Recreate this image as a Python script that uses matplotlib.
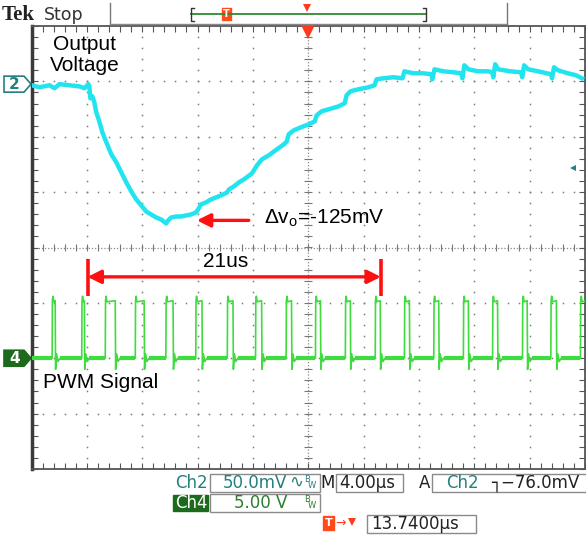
import matplotlib
matplotlib.use('Agg')
import matplotlib.pyplot as plt
import matplotlib.transforms as mtransforms
from matplotlib.patches import Polygon, Rectangle
from matplotlib.ticker import MultipleLocator
import numpy as np

W, H = 586, 536

# Ch2 output voltage: time (us) and level (mV, relative to the Ch2 marker)
ch2_t_us = [0.00, 0.58, 1.30, 1.66, 2.02, 2.74, 3.46, 3.82, 4.11, 4.18,
            4.25, 4.40, 4.54, 4.68, 4.90, 5.12, 5.41, 5.77, 6.13, 6.49,
            6.85, 7.21, 7.57, 7.93, 8.29, 8.65, 9.01, 9.37, 9.73, 9.87,
            10.09, 10.45, 10.81, 11.17, 11.53, 11.89, 12.04, 12.25, 12.61, 12.97,
            13.33, 13.69, 14.13, 14.27, 14.63, 14.99, 15.35, 15.93, 16.29, 16.65,
            17.15, 17.73, 18.23, 18.45, 18.59, 18.95, 19.46, 20.03, 20.47, 20.61,
            20.97, 21.48, 22.20, 22.63, 22.77, 23.06, 23.64, 24.36, 24.79, 24.94,
            25.44, 26.16, 26.81, 26.95, 27.60, 28.32, 28.90, 28.97, 29.12, 29.77,
            30.49, 31.06, 31.14, 31.28, 31.57, 32.29, 33.01, 33.30, 33.37, 33.51,
            33.73, 34.59, 35.39, 35.46, 35.60, 35.89, 36.61, 37.55, 37.62, 37.76,
            38.05, 38.77, 39.35, 39.78]
ch2_mv = [-1.0, -2.8, -1.0, -3.7, 0.0, -1.0, -2.0, -3.7, 0.0, -1.9,
          -12.8, -11.0, -16.4, -25.4, -33.6, -43.5, -52.5, -63.4, -70.6, -79.7,
          -88.7, -96.9, -104.1, -109.5, -115.0, -117.7, -120.4, -122.2, -125.8, -123.1,
          -120.4, -119.5, -119.5, -118.6, -117.7, -115.8, -113.1, -108.6, -106.8, -104.1,
          -102.3, -100.5, -97.8, -95.1, -92.3, -88.7, -86.0, -80.6, -73.4, -67.9,
          -64.3, -58.9, -54.4, -51.7, -45.3, -41.7, -39.0, -36.3, -33.6, -28.1,
          -24.5, -22.7, -20.0, -17.3, -10.1, -6.4, -4.6, -2.8, -1.0, 4.4,
          5.3, 6.2, 5.3, 11.6, 9.8, 9.8, 8.9, 4.4, 13.4, 11.6,
          10.7, 9.8, 5.3, 17.0, 13.4, 11.6, 11.6, 10.7, 6.2, 18.0,
          13.4, 11.6, 10.7, 6.2, 17.0, 13.4, 11.6, 8.9, 5.3, 15.2,
          12.5, 9.8, 8.0, 5.3]

# Ch4 PWM signal: edge times (us) and levels (V)
pwm_rise_us = [1.49, 3.63, 5.33, 7.50, 9.71, 11.87, 14.15, 16.19, 18.40, 20.52,
               22.68, 24.84, 26.95, 29.07, 31.21, 33.32, 35.48, 37.53, 39.67]
pwm_fall_us = [1.71, 3.82, 6.05, 8.14, 10.23, 12.32, 14.56, 16.63, 18.79, 20.88,
               23.04, 25.20, 27.31, 29.43, 31.57, 33.68, 35.82, 37.93, 40.20]
pwm_high_v = 5.2
pwm_peak_v = 5.6
pwm_under_v = -1.0

# scope settings
ch2_scale_mv = 50.0
ch4_scale_v = 5.0
ch2_pos_div = 2.95
ch4_pos_div = -2.0
trig_level_mv = -76.0
trig_pos_us = 20.0

# annotations
dv_label = r'$\mathrm{\Delta v_o}$=-125mV'
dv_arrow_from_us, dv_arrow_to_us, dv_arrow_mv = 15.7, 11.95, -123.0
span_label = '21us'
span_start_us, span_end_us = 4.05, 25.25

CH2_COL = '#22e4ef'
CH4_COL = '#3fdc3f'
TEAL = '#23807f'
GREEN_TXT = '#2f7d2f'
RED = '#ff1010'

plt.rcParams['mathtext.fontset'] = 'custom'
plt.rcParams['mathtext.rm'] = 'Liberation Sans'
plt.rcParams['mathtext.it'] = 'Liberation Sans:italic'

fig = plt.figure(figsize=(W / 100, H / 100), dpi=100)
fig.patch.set_facecolor('white')


def fx(x):
    return x / W


def fy(y):
    return 1 - y / H


left, right, top, bottom = 31.5, 585, 26, 469
ax = fig.add_axes([fx(left), fy(bottom), (right - left) / W, (bottom - top) / H])
ax.set_xlim(0, 40)
ax.set_ylim(-4, 4)

# graticule
ax.xaxis.set_major_locator(MultipleLocator(4))
ax.xaxis.set_minor_locator(MultipleLocator(0.8))
ax.yaxis.set_major_locator(MultipleLocator(1))
ax.yaxis.set_minor_locator(MultipleLocator(0.2))
ax.tick_params(which='both', direction='in', top=True, right=True,
               labelbottom=False, labelleft=False, length=4, width=0.8,
               color='#555555')
for side in ['top', 'right', 'bottom']:
    ax.spines[side].set_color('#555555')
    ax.spines[side].set_linewidth(1.3)
ax.spines['left'].set_color('#3a3a3a')
ax.spines['left'].set_linewidth(2.5)

dot_y = np.arange(-3.8, 4.0, 0.2)
dot_x = np.arange(0.8, 40.0, 0.8)
for xv in range(4, 40, 4):
    if xv == 20:
        continue
    ax.plot([xv] * len(dot_y), dot_y, ls='none', marker='s', ms=1.1,
            mew=0, color='#7a7a7a', zorder=1)
for yv in range(-3, 4):
    if yv == 0:
        continue
    ax.plot(dot_x, [yv] * len(dot_x), ls='none', marker='s', ms=1.1,
            mew=0, color='#7a7a7a', zorder=1)
ax.axhline(0, ls=(0, (1, 1.5)), lw=0.9, color='#8a8a8a', zorder=1)
ax.axvline(20, ls=(0, (1, 1.5)), lw=0.9, color='#8a8a8a', zorder=1)
ax.vlines(dot_x, -0.07, 0.07, lw=0.8, color='#777777', zorder=1)
ax.hlines(dot_y, 19.72, 20.28, lw=0.8, color='#777777', zorder=1)

# Ch2 trace
ch2_div = ch2_pos_div + np.array(ch2_mv) / ch2_scale_mv
ax.plot(ch2_t_us, ch2_div, color=CH2_COL, lw=3.2, solid_joinstyle='round',
        zorder=3)

# Ch4 PWM trace
px_t, px_v = [0.0], [0.0]
base_segs = [(0.0, pwm_rise_us[0])]
for i, (r, f) in enumerate(zip(pwm_rise_us, pwm_fall_us)):
    px_t += [r, r + 0.02, r + 0.06, r + 0.12, f, f + 0.03, f + 0.1, f + 0.2, f + 0.35]
    px_v += [0.0, pwm_high_v, pwm_peak_v, pwm_high_v - 0.1, pwm_high_v,
             pwm_under_v, 0.4, -0.3, 0.0]
    nxt = pwm_rise_us[i + 1] if i + 1 < len(pwm_rise_us) else 40.5
    base_segs.append((f + 0.35, nxt))
ch4_div = ch4_pos_div + np.array(px_v) / ch4_scale_v
ax.plot(px_t, ch4_div, color=CH4_COL, lw=1.2, zorder=3)
for a, b in base_segs:
    ax.plot([a, b], [ch4_pos_div, ch4_pos_div], color=CH4_COL, lw=3.0,
            zorder=3, solid_capstyle='butt')

# trigger markers
ax.plot([trig_pos_us], [3.9], marker='v', ms=10, color='#ff3b1f', mew=0,
        clip_on=False, zorder=5)
ax.plot([39.15], [ch2_pos_div + trig_level_mv / ch2_scale_mv], marker='<',
        ms=5, color=TEAL, mew=0, zorder=5)

# annotations
ax.text(3.85, 3.47, 'Output\nVoltage', ha='center', va='center',
        family='Liberation Sans', fontsize=15, linespacing=1.15, zorder=6)
ax.text(0.85, -2.43, 'PWM Signal', ha='left', va='center',
        family='Liberation Sans', fontsize=15, zorder=6)
dv_y = ch2_pos_div + dv_arrow_mv / ch2_scale_mv
ax.annotate('', xy=(dv_arrow_to_us, dv_y), xytext=(dv_arrow_from_us, dv_y),
            arrowprops=dict(arrowstyle='-|>', color=RED, lw=2.4,
                            mutation_scale=20, shrinkA=0, shrinkB=0))
ax.text(16.8, dv_y + 0.03, dv_label, ha='left', va='center',
        family='Liberation Sans', fontsize=15, zorder=6)
span_y = -0.53
ax.annotate('', xy=(span_start_us, span_y), xytext=(span_end_us, span_y),
            arrowprops=dict(arrowstyle='<|-|>', color=RED, lw=2.4,
                            mutation_scale=20, shrinkA=0, shrinkB=0))
ax.vlines([span_start_us, span_end_us], -0.88, -0.2, color=RED, lw=2.6)
ax.text(14.0, -0.26, span_label, ha='center', va='center',
        family='Liberation Sans', fontsize=15, zorder=6)

# channel markers on the left
mk_tr = mtransforms.blended_transform_factory(fig.transFigure, ax.transData)
hh = 8 / ((bottom - top) / 8)
for pos, label, fc, ec, tc in [(ch2_pos_div, '2', 'white', TEAL, TEAL),
                               (ch4_pos_div, '4', '#1d6a1d', '#1d6a1d', 'white')]:
    poly = Polygon([(fx(4), pos - hh), (fx(24), pos - hh), (fx(31), pos),
                    (fx(24), pos + hh), (fx(4), pos + hh)], closed=True,
                   transform=mk_tr, fc=fc, ec=ec, lw=1.2, clip_on=False)
    fig.add_artist(poly)
    fig.text(fx(14.5), 0, label, transform=mk_tr, ha='center', va='center',
             fontsize=11, fontweight='bold', color=tc).set_y(pos)

# top status bar
fig.text(fx(2), fy(15), 'Tek', family='Liberation Serif', fontweight='bold',
         fontsize=15, ha='left', va='center', color='#222222')
fig.text(fx(44), fy(15), 'Stop', family='DejaVu Sans', fontsize=12.5,
         ha='left', va='center', color='#333333')
fig.add_artist(plt.Line2D([fx(110), fx(110)], [fy(3), fy(24)], color='#777777', lw=1))
fig.add_artist(plt.Line2D([fx(110), fx(507)], [fy(24), fy(24)], color='#888888', lw=1))
fig.add_artist(plt.Line2D([fx(507), fx(507)], [fy(3), fy(24)], color='#777777', lw=1))
fig.add_artist(plt.Line2D([fx(191), fx(426)], [fy(14), fy(14)], color='#2f8a2f', lw=1.3))
for xb, d in [(191, 1), (426, -1)]:
    fig.add_artist(plt.Line2D([fx(xb + 3 * d), fx(xb), fx(xb), fx(xb + 3 * d)],
                              [fy(8), fy(8), fy(21), fy(21)], color='#333333', lw=1))
fig.add_artist(Rectangle((fx(222), fy(20)), 9 / W, 12 / H, transform=fig.transFigure,
                         fc='#ff4a1a', ec='#ff4a1a'))
fig.text(fx(226.5), fy(14), 'T', ha='center', va='center', fontsize=7,
         fontweight='bold', color='white')
fig.add_artist(plt.Line2D([fx(307)], [fy(8)], marker='v', ms=6, color='#ff3b1f',
                          mew=0, ls='none'))

# readout area
def box(x0, y0, x1, y1, fc='none', ec='#8a8a8a'):
    fig.add_artist(Rectangle((fx(x0), fy(y1)), (x1 - x0) / W, (y1 - y0) / H,
                             transform=fig.transFigure, fc=fc, ec=ec, lw=1))


ro = dict(family='DejaVu Sans', fontsize=12, va='center')
fig.text(fx(175), fy(483), 'Ch2', color=TEAL, ha='left', **ro)
box(210, 474, 320, 492)
fig.text(fx(223), fy(483), '50.0mV', color=TEAL, ha='left', **ro)
fig.text(fx(289), fy(482), '\u223f', color=TEAL, ha='left', **ro)
fig.text(fx(304), fy(479), 'B', color=TEAL, ha='left', family='DejaVu Sans',
         fontsize=6, va='center')
fig.text(fx(308), fy(486), 'W', color=TEAL, ha='left', family='DejaVu Sans',
         fontsize=6, va='center')
fig.text(fx(320), fy(483), 'M', color='#222222', ha='left', **ro)
box(336, 474, 403, 492)
fig.text(fx(339), fy(483), '4.00\u00b5s', color='#222222', ha='left', **ro)
fig.text(fx(419), fy(483), 'A', color='#222222', ha='left', **ro)
box(432, 474, 590, 492)
fig.text(fx(446), fy(483), 'Ch2', color=TEAL, ha='left', **ro)
fig.text(fx(491), fy(483), '\u2510\u221276.0mV', color='#222222', ha='left', **ro)

box(173, 495, 208, 511, fc='#1d6a1d', ec='#1d6a1d')
fig.text(fx(175), fy(503), 'Ch4', color='white', ha='left', **ro)
box(210, 494, 320, 512)
fig.text(fx(234), fy(503), '5.00 V', color=GREEN_TXT, ha='left', **ro)
fig.text(fx(304), fy(499), 'B', color=GREEN_TXT, ha='left', family='DejaVu Sans',
         fontsize=6, va='center')
fig.text(fx(308), fy(506), 'W', color=GREEN_TXT, ha='left', family='DejaVu Sans',
         fontsize=6, va='center')

fig.add_artist(Rectangle((fx(323), fy(530)), 11 / W, 14 / H, transform=fig.transFigure,
                         fc='#ff4a1a', ec='#ff4a1a'))
fig.text(fx(328.5), fy(523), 'T', ha='center', va='center', fontsize=8,
         fontweight='bold', color='white')
fig.text(fx(335), fy(523), '\u2192', color='#ff3b1f', ha='left', family='DejaVu Sans',
         fontsize=9, va='center')
fig.add_artist(plt.Line2D([fx(352)], [fy(522)], marker='v', ms=6, color='#ff3b1f',
                          mew=0, ls='none'))
box(367, 515, 476, 533)
fig.text(fx(371), fy(524), '13.7400\u00b5s', color='#222222', ha='left', **ro)

fig.savefig('out.png', dpi=100, facecolor='white')
